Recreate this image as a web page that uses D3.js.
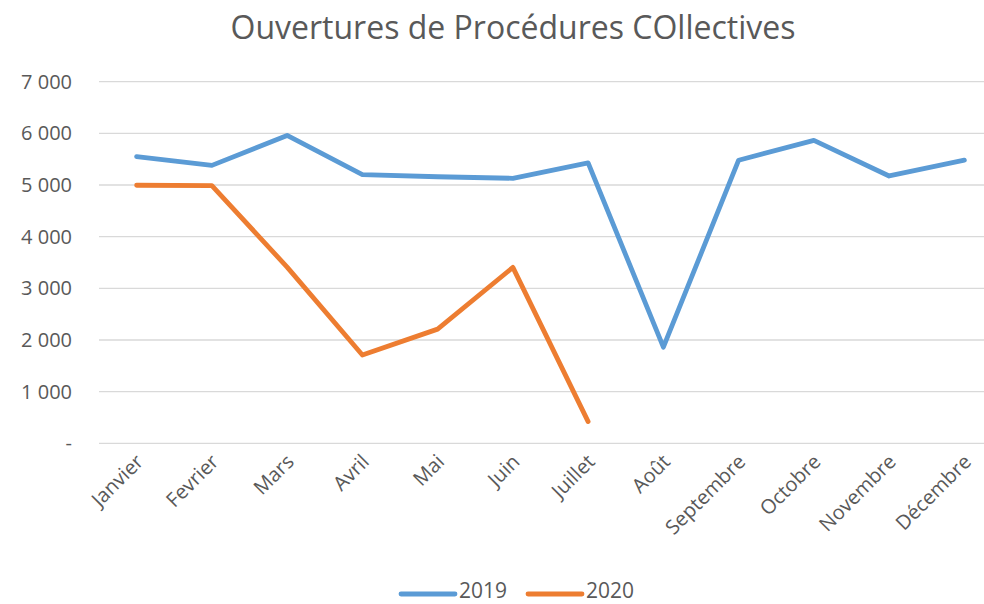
<!DOCTYPE html>
<meta charset="utf-8">
<script src="https://d3js.org/d3.v7.min.js"></script>
<style>
  body { margin: 0; background: #fff; }
  text { font-family: "Open Sans", "DejaVu Sans", sans-serif; fill: #595959; }
</style>
<div id="chart"></div>
<script>

// data
var months = ["Janvier","Fevrier","Mars","Avril","Mai","Juin","Juillet","Août","Septembre","Octobre","Novembre","Décembre"];
var v2019 = [5550, 5380, 5960, 5200, 5160, 5130, 5430, 1860, 5480, 5865, 5175, 5480];
var v2020 = [4995, 4990, 3410, 1710, 2210, 3405, 420];
var yTicks = [0, 1000, 2000, 3000, 4000, 5000, 6000, 7000];

var W = 984, H = 604;
var plotLeft = 99, plotRight = 1002, plotTop = 81.7, plotBottom = 443.3;

var svg = d3.select("#chart").append("svg")
    .attr("width", W)
    .attr("height", H);

var x = d3.scalePoint()
  .domain(months)
  .range([plotLeft, plotRight])
  .padding(0.5);

var y = d3.scaleLinear()
  .domain([0, 7000])
  .range([plotBottom, plotTop]);

// title
svg.append("text")
    .attr("x", 513)
    .attr("y", 39)
    .attr("text-anchor", "middle")
    .style("font-size", "32px")
    .text("Ouvertures de Procédures COllectives");

// gridlines
svg.append("g")
  .selectAll("line")
  .data(yTicks)
  .enter().append("line")
    .attr("x1", plotLeft)
    .attr("x2", plotRight)
    .attr("y1", function(d){ return y(d); })
    .attr("y2", function(d){ return y(d); })
    .attr("stroke", "#d9d9d9")
    .attr("stroke-width", 1.3);

// y labels
var fmt = function(d){ return d === 0 ? "-" : d3.format(",")(d).replace(",", " "); };
svg.append("g")
  .selectAll("text")
  .data(yTicks)
  .enter().append("text")
    .attr("x", 72)
    .attr("y", function(d){ return y(d) + 7; })
    .attr("text-anchor", "end")
    .style("font-size", "20px")
    .text(fmt);

// x labels
svg.append("g")
  .selectAll("text")
  .data(months)
  .enter().append("text")
    .attr("transform", function(d){ return "translate(" + (x(d) + 8) + "," + 463 + ") rotate(-45)"; })
    .attr("text-anchor", "end")
    .style("font-size", "20px")
    .text(function(d){ return d; });

var line = d3.line()
  .x(function(d, i){ return x(months[i]); })
  .y(function(d){ return y(d); });

svg.append("path")
    .datum(v2019)
    .attr("fill", "none")
    .attr("stroke", "#5b9bd5")
    .attr("stroke-width", 4.8)
    .attr("stroke-linecap", "round")
    .attr("stroke-linejoin", "round")
    .attr("d", line);

svg.append("path")
    .datum(v2020)
    .attr("fill", "none")
    .attr("stroke", "#ed7d31")
    .attr("stroke-width", 4.8)
    .attr("stroke-linecap", "round")
    .attr("stroke-linejoin", "round")
    .attr("d", line);

// legend
var legend = [{name: "2019", color: "#5b9bd5", x: 401}, {name: "2020", color: "#ed7d31", x: 528}];
var lg = svg.append("g").selectAll("g").data(legend).enter().append("g");
lg.append("line")
    .attr("x1", function(d){ return d.x; })
    .attr("x2", function(d){ return d.x + 54; })
    .attr("y1", 594).attr("y2", 594)
    .attr("stroke", function(d){ return d.color; })
    .attr("stroke-width", 4.8)
    .attr("stroke-linecap", "round");
lg.append("text")
    .attr("x", function(d){ return d.x + 58; })
    .attr("y", 598)
    .attr("dominant-baseline", "auto")
    .style("font-size", "21px")
    .text(function(d){ return d.name; });

</script>
